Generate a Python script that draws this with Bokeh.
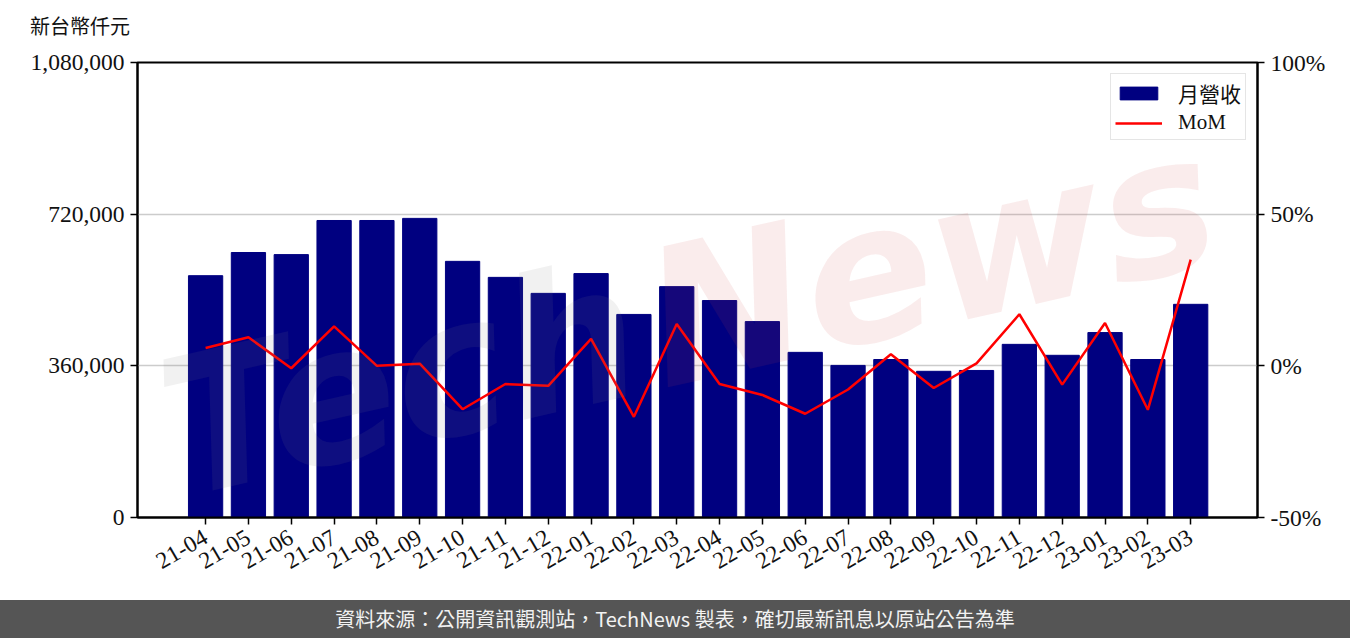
import math
from bokeh.plotting import figure
from bokeh.models import (Range1d, LinearAxis, FixedTicker, NumeralTickFormatter,
                          PrintfTickFormatter, Div, Legend, LegendItem, ColumnDataSource)
from bokeh.layouts import column
from bokeh.embed import file_html
from bokeh.resources import INLINE
from bokeh.core.properties import value

# ---------------- data ----------------
months = ["21-04", "21-05", "21-06", "21-07", "21-08", "21-09", "21-10", "21-11",
          "21-12", "22-01", "22-02", "22-03", "22-04", "22-05", "22-06", "22-07",
          "22-08", "22-09", "22-10", "22-11", "22-12", "23-01", "23-02", "23-03"]
revenue = [574000, 629000, 624000, 705000, 705000, 710000, 608000, 570000,
           532000, 579000, 482000, 548000, 515000, 465000, 392000, 361000,
           375000, 347000, 349000, 411000, 385000, 439000, 375000, 506000]
mom = [5.9, 9.4, -0.8, 13.0, 0.0, 0.7, -14.3, -6.0,
       -6.6, 8.9, -16.8, 13.8, -6.0, -9.6, -15.8, -7.8,
       3.8, -7.3, 0.8, 17.0, -6.2, 14.1, -14.5, 35.0]
left_ticks = [0, 360000, 720000, 1080000]
right_ticks = [-50, 0, 50, 100]
series_names = ["月營收", "MoM"]
unit_label = "新台幣仟元"
source_note = "資料來源：公開資訊觀測站，TechNews 製表，確切最新訊息以原站公告為準"
watermark_words = ["Tech", "News"]

x = list(range(len(months)))
src = ColumnDataSource(dict(x=x, revenue=revenue, mom=mom))

SERIF = "Liberation Serif"
CJK = "Noto Sans CJK TC"
W, H_HEAD, H_FIG, H_BANNER = 1350, 40, 560, 38

head = Div(text=unit_label, width=W, height=H_HEAD,
           styles={"font-family": CJK, "font-size": "20px", "color": "#111111",
                   "padding-left": "30px", "padding-top": "14px", "line-height": "24px",
                   "box-sizing": "border-box", "width": f"{W}px", "height": f"{H_HEAD}px",
                   "margin": "0", "background-color": "white"})

p = figure(width=W, height=H_FIG, output_backend="svg", toolbar_location=None,
           x_range=Range1d(-1.59, 24.56), y_range=Range1d(left_ticks[0], left_ticks[-1]),
           min_border_left=137, min_border_right=93, min_border_top=22, min_border_bottom=83)
p.extra_y_ranges = {"mom": Range1d(right_ticks[0], right_ticks[-1])}

p.background_fill_color = "white"
p.border_fill_color = "white"
p.outline_line_color = "black"
p.outline_line_width = 2
p.outline_line_alpha = 1

bars = p.vbar(x="x", top="revenue", width=0.8, source=src,
              fill_color="#000080", line_color="#000080")
line = p.line(x="x", y="mom", source=src, y_range_name="mom",
              line_color="red", line_width=2.5)

# faint watermark drawn over the marks (decoration)
p.text(x=[4.55], y=[325000], text=[watermark_words[0]], angle=0.223,
       text_font=value("DejaVu Sans"), text_font_style="bold italic",
       text_font_size="190px", text_color="#808080", text_alpha=0.11,
       text_align="center", text_baseline="middle")
p.text(x=[16.93], y=[610000], text=[watermark_words[1]], angle=0.223,
       text_font=value("DejaVu Sans"), text_font_style="bold italic",
       text_font_size="190px", text_color="#d04040", text_alpha=0.10,
       text_align="center", text_baseline="middle")

# axes
p.yaxis.ticker = FixedTicker(ticks=left_ticks)
p.yaxis.formatter = NumeralTickFormatter(format="0,0")
p.xaxis.ticker = FixedTicker(ticks=x)
p.xaxis.major_label_overrides = {i: m for i, m in enumerate(months)}
p.xaxis.major_label_orientation = math.pi / 6

right_axis = LinearAxis(y_range_name="mom", ticker=FixedTicker(ticks=right_ticks),
                        formatter=PrintfTickFormatter(format="%d%%"))
p.add_layout(right_axis, "right")

for ax in [p.xaxis[0], p.yaxis[0], right_axis]:
    ax.major_label_text_font = SERIF
    ax.major_label_text_font_size = "23.5px"
    ax.major_label_text_color = "#111111"
    ax.major_tick_line_color = "black"
    ax.major_tick_line_width = 1.5
    ax.major_tick_out = 7
    ax.major_tick_in = 0
    ax.minor_tick_line_color = None
    ax.axis_line_color = "black"
    ax.axis_line_width = 2
    ax.major_label_standoff = 6

p.xaxis.major_label_standoff = 11

p.xgrid.visible = False
p.ygrid.ticker = FixedTicker(ticks=left_ticks)
p.ygrid.grid_line_color = "#cccccc"
p.ygrid.grid_line_width = 1.5

legend = Legend(items=[LegendItem(label=series_names[0], renderers=[bars]),
                       LegendItem(label=series_names[1], renderers=[line])],
                location="top_right")
legend.label_text_font = SERIF + ", " + CJK
legend.label_text_font_size = "21px"
legend.label_text_color = "#111111"
legend.border_line_color = "#cccccc"
legend.border_line_width = 1.5
legend.background_fill_alpha = 0.85
legend.glyph_width = 47
legend.glyph_height = 16
legend.label_height = 16
legend.label_standoff = 16
legend.padding = 4
legend.spacing = 2
legend.margin = 11
p.add_layout(legend)

banner = Div(text=source_note, width=W, height=H_BANNER,
             styles={"background-color": "#555555", "color": "#f2f2f2",
                     "font-family": CJK, "font-size": "20px",
                     "display": "flex", "align-items": "center",
                     "justify-content": "center", "width": f"{W}px",
                     "height": f"{H_BANNER}px", "margin": "0", "padding": "0"})

layout = column(head, p, banner, spacing=0)
open("out.html", "w").write(file_html(layout, INLINE))
